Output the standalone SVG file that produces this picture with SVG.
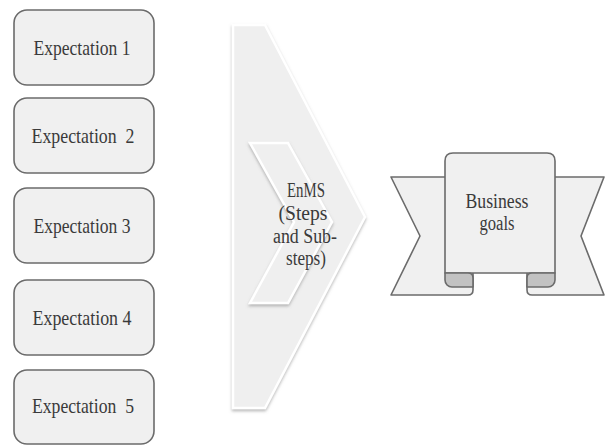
<svg xmlns="http://www.w3.org/2000/svg" width="609" height="445" viewBox="0 0 609 445">
<style>
.box{fill:#f0f0f0;stroke:#6b6b6b;stroke-width:1.6}
text{font-family:'Liberation Serif','DejaVu Serif',serif;fill:#3a3a3a;text-anchor:middle}
.lbl{font-size:22px}
.ml{font-size:20px}
.rib{fill:#f0f0f0;stroke:#6b6b6b;stroke-width:1.6;stroke-linejoin:round}
.fold{fill:#c2c2c2;stroke:#6b6b6b;stroke-width:1.6;stroke-linejoin:round}
.chev{fill:#efefef;stroke:#ffffff;stroke-width:2.5;stroke-linejoin:miter}
</style>
<defs>
<filter id="sh" x="-10%" y="-10%" width="130%" height="130%">
<feDropShadow dx="0" dy="2" stdDeviation="1.5" flood-color="#8a8a8a" flood-opacity="0.6"/>
</filter>
</defs>
<rect width="609" height="445" fill="#ffffff"/>
<g id="exp1"><rect class="box" x="14" y="10" width="140" height="75" rx="13"/><text class="lbl" font-family="Liberation Serif, serif" x="82" y="55" textLength="97" lengthAdjust="spacingAndGlyphs">Expectation 1</text></g>
<g id="exp2"><rect class="box" x="14" y="98" width="140" height="75" rx="13"/><text class="lbl" font-family="Liberation Serif, serif" x="83" y="143" textLength="103" lengthAdjust="spacingAndGlyphs" xml:space="preserve">Expectation  2</text></g>
<g id="exp3"><rect class="box" x="14" y="188" width="140" height="75" rx="13"/><text class="lbl" font-family="Liberation Serif, serif" x="82" y="233" textLength="97" lengthAdjust="spacingAndGlyphs">Expectation 3</text></g>
<g id="exp4"><rect class="box" x="14" y="280" width="140" height="75" rx="13"/><text class="lbl" font-family="Liberation Serif, serif" x="82" y="325" textLength="99" lengthAdjust="spacingAndGlyphs">Expectation 4</text></g>
<g id="exp5"><rect class="box" x="14" y="370" width="140" height="74" rx="13"/><text class="lbl" font-family="Liberation Serif, serif" x="83" y="413" textLength="102" lengthAdjust="spacingAndGlyphs" xml:space="preserve">Expectation  5</text></g>
<g id="enms">
<path class="chev" filter="url(#sh)" d="M233,25 H265 L365,217 L265,408 H233 Z"/>
<path class="chev" filter="url(#sh)" d="M250,143 H288 L332,222 L288,303 H250 L294,222 Z"/>
<text class="ml" font-family="Liberation Serif, serif" x="306" y="197" textLength="38" lengthAdjust="spacingAndGlyphs">EnMS</text>
<text class="ml" font-family="Liberation Serif, serif" x="303" y="220" textLength="49" lengthAdjust="spacingAndGlyphs">(Steps</text>
<text class="ml" font-family="Liberation Serif, serif" x="305" y="243" textLength="64" lengthAdjust="spacingAndGlyphs">and Sub-</text>
<text class="ml" font-family="Liberation Serif, serif" x="306" y="265" textLength="40" lengthAdjust="spacingAndGlyphs">steps)</text>
</g>
<g id="business">
<path class="rib" d="M391,177 H473 V290 Q473,295 468,295 H391 L420,236 Z"/>
<path class="rib" d="M604,177 H527 V290 Q527,295 532,295 H604 L581,236 Z"/>
<path class="rib" d="M445,273 V161 Q445,153 453,153 H547 Q555,153 555,161 V273 Z"/>
<path class="fold" d="M445,273 V280 A7,7 0 0 0 452,287 H473 V278 Q473,273 468,273 Z"/>
<path class="fold" d="M555,273 V280 A7,7 0 0 1 548,287 H527 V278 Q527,273 532,273 Z"/>
<text class="ml" font-family="Liberation Serif, serif" x="497" y="208" textLength="63" lengthAdjust="spacingAndGlyphs">Business</text>
<text class="ml" font-family="Liberation Serif, serif" x="497" y="230" textLength="35" lengthAdjust="spacingAndGlyphs">goals</text>
</g>
</svg>
